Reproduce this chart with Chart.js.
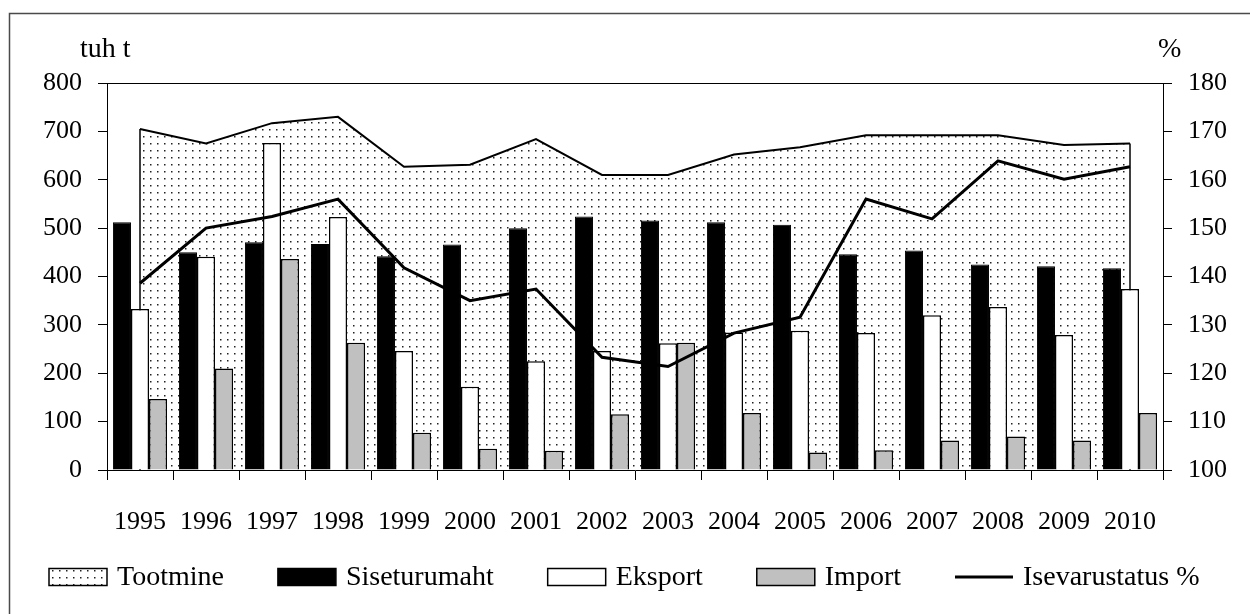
<!DOCTYPE html>
<html>
<head>
<meta charset="utf-8">
<script src="https://cdn.jsdelivr.net/npm/chart.js@4.4.0/dist/chart.umd.min.js"></script>
<style>
  html, body { margin: 0; padding: 0; background: #fff; }
  canvas { display: block; }
</style>
</head>
<body>
<canvas id="chart" width="1250" height="614" style="width:1250px;height:614px"></canvas>
<script>
// Years on the category axis
const years = ['1995', '1996', '1997', '1998', '1999', '2000', '2001', '2002',
               '2003', '2004', '2005', '2006', '2007', '2008', '2009', '2010'];

// Volumes, thousand tonnes (left axis)
const tootmine     = [705, 675, 717, 730, 627, 631, 684, 610, 610, 652, 667, 692, 692, 692, 672, 675];
const siseturumaht = [512, 450, 471, 467, 442, 466, 500, 524, 516, 512, 507, 446, 454, 425, 421, 417];
const eksport      = [333, 441, 676, 523, 246, 172, 225, 246, 262, 284, 288, 283, 320, 337, 279, 374];
const importVol    = [147, 210, 436, 263,  77,  44,  40, 115, 263, 118,  36,  41,  61,  69,  61, 118];

// Self-sufficiency, percent (right axis)
const isevarustatus = [138.6, 150.0, 152.4, 156.0, 141.8, 135.0, 137.4, 123.3,
                       121.4, 128.3, 131.6, 156.0, 151.9, 163.9, 160.1, 162.7];

// Axis ranges and tick steps
const leftTicks  = { min: 0,   max: 800, step: 100 };
const rightTicks = { min: 100, max: 180, step: 10 };

const FONT = "'Liberation Serif', 'Times New Roman', serif";

// Dotted fill used for the production area
function makeStipple() {
  const tile = document.createElement('canvas');
  tile.width = 7; tile.height = 7;
  const g = tile.getContext('2d');
  g.fillStyle = '#ffffff';
  g.fillRect(0, 0, 7, 7);
  g.fillStyle = '#222';
  g.fillRect(3, 3, 1.5, 1.5);
  return document.createElement('canvas').getContext('2d').createPattern(tile, 'repeat');
}
const stipple = makeStipple();

// Page frame, plot top rule and axis unit captions
const framePlugin = {
  id: 'frame',
  beforeDraw(chart) {
    const ctx = chart.ctx;
    ctx.save();
    ctx.fillStyle = '#fff';
    ctx.fillRect(0, 0, chart.width, chart.height);
    ctx.strokeStyle = '#4a4a4a';
    ctx.lineWidth = 1.5;
    ctx.strokeRect(9.5, 13.5, chart.width + 40, chart.height + 40);
    ctx.restore();
  },
  afterDraw(chart) {
    const ctx = chart.ctx;
    const a = chart.chartArea;
    ctx.save();
    ctx.strokeStyle = '#000';
    ctx.lineWidth = 1;
    ctx.beginPath();
    ctx.moveTo(a.left, a.top + 0.5);
    ctx.lineTo(a.right, a.top + 0.5);
    ctx.stroke();

    ctx.fillStyle = '#000';
    ctx.font = '28px ' + FONT;
    ctx.textBaseline = 'alphabetic';
    ctx.textAlign = 'left';
    ctx.fillText('tuh t', 80, 57);
    ctx.fillText('%', 1158, 57);
    ctx.restore();
  }
};

// Outline of the production area: its vertical end edges
const areaEdgePlugin = {
  id: 'areaEdges',
  afterDatasetDraw(chart, args) {
    const ds = chart.data.datasets[args.index];
    if (!ds.isArea) return;
    const pts = args.meta.data;
    if (!pts.length) return;
    const base = chart.scales.y.getPixelForValue(0);
    const ctx = chart.ctx;
    ctx.save();
    ctx.strokeStyle = '#000';
    ctx.lineWidth = 1.5;
    ctx.beginPath();
    ctx.moveTo(pts[0].x, pts[0].y);
    ctx.lineTo(pts[0].x, base);
    ctx.moveTo(pts[pts.length - 1].x, pts[pts.length - 1].y);
    ctx.lineTo(pts[pts.length - 1].x, base);
    ctx.stroke();
    ctx.restore();
  }
};

// Single-row legend under the category labels
const legendRowPlugin = {
  id: 'legendRow',
  afterDraw(chart) {
    const ctx = chart.ctx;
    const boxW = 58, boxH = 17, textGap = 10, itemGap = 54;
    const cy = 577;
    let x = 49;
    ctx.save();
    ctx.font = '28px ' + FONT;
    ctx.textBaseline = 'middle';
    ctx.textAlign = 'left';
    chart.data.datasets.forEach(ds => {
      if (ds.type === 'line' && !ds.isArea) {
        ctx.strokeStyle = ds.borderColor;
        ctx.lineWidth = ds.borderWidth;
        ctx.beginPath();
        ctx.moveTo(x, cy);
        ctx.lineTo(x + boxW, cy);
        ctx.stroke();
      } else {
        ctx.fillStyle = ds.backgroundColor;
        ctx.fillRect(x, cy - boxH / 2, boxW, boxH);
        ctx.strokeStyle = '#000';
        ctx.lineWidth = 1.5;
        ctx.strokeRect(x, cy - boxH / 2, boxW, boxH);
      }
      ctx.fillStyle = '#000';
      const tx = x + boxW + textGap;
      ctx.fillText(ds.label, tx, cy + 1);
      x = tx + ctx.measureText(ds.label).width + itemGap;
    });
    ctx.restore();
  }
};

const tickFont = { family: FONT, size: 26 };

new Chart(document.getElementById('chart'), {
  data: {
    labels: years,
    datasets: [
      {
        type: 'line', label: 'Tootmine', isArea: true, data: tootmine, yAxisID: 'y',
        backgroundColor: stipple, borderColor: '#000', borderWidth: 2,
        fill: 'origin', pointRadius: 0, tension: 0, order: 3
      },
      {
        type: 'bar', label: 'Siseturumaht', data: siseturumaht, yAxisID: 'y',
        backgroundColor: '#000', borderColor: '#000', borderWidth: 1,
        categoryPercentage: 0.82, barPercentage: 1, order: 2
      },
      {
        type: 'bar', label: 'Eksport', data: eksport, yAxisID: 'y',
        backgroundColor: '#fff', borderColor: '#000', borderWidth: 1.5,
        categoryPercentage: 0.82, barPercentage: 1, order: 2
      },
      {
        type: 'bar', label: 'Import', data: importVol, yAxisID: 'y',
        backgroundColor: '#c0c0c0', borderColor: '#000', borderWidth: 1.5,
        categoryPercentage: 0.82, barPercentage: 1, order: 2
      },
      {
        type: 'line', label: 'Isevarustatus %', data: isevarustatus, yAxisID: 'y1',
        borderColor: '#000', borderWidth: 3, fill: false,
        pointRadius: 0, tension: 0, order: 1
      }
    ]
  },
  options: {
    responsive: false,
    animation: false,
    devicePixelRatio: 1,
    layout: { padding: { left: 0, right: 0, top: 83, bottom: 74 } },
    plugins: {
      legend: { display: false },
      tooltip: { enabled: false }
    },
    scales: {
      x: {
        type: 'category',
        offset: true,
        grid: { offset: true, drawOnChartArea: false, tickLength: 10, color: '#000', tickColor: '#000', lineWidth: 1 },
        border: { color: '#000', width: 1 },
        ticks: { font: tickFont, color: '#000', padding: 27, maxRotation: 0, autoSkip: false },
        afterFit(s) { s.height = 70; }
      },
      y: {
        position: 'left',
        min: leftTicks.min, max: leftTicks.max,
        grid: { drawOnChartArea: false, tickLength: 9, color: '#000', tickColor: '#000' },
        border: { color: '#000', width: 1 },
        ticks: { stepSize: leftTicks.step, font: tickFont, color: '#000', padding: 16 },
        afterFit(s) { s.width = 107; }
      },
      y1: {
        position: 'right',
        min: rightTicks.min, max: rightTicks.max,
        grid: { drawOnChartArea: false, tickLength: 9, color: '#000', tickColor: '#000' },
        border: { color: '#000', width: 1 },
        ticks: { stepSize: rightTicks.step, font: tickFont, color: '#000', padding: 16 },
        afterFit(s) { s.width = 87; }
      }
    }
  },
  plugins: [framePlugin, areaEdgePlugin, legendRowPlugin]
});
</script>
</body>
</html>
